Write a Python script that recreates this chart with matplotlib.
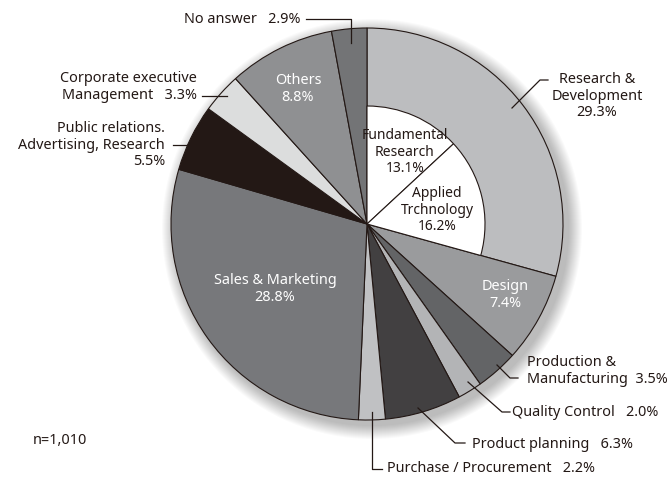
import matplotlib
matplotlib.use("Agg")
import matplotlib.pyplot as plt
from matplotlib.patches import Circle

plt.rcParams['font.family'] = ['Noto Sans', 'DejaVu Sans']

categories = ["Research & Development", "Design", "Production & Manufacturing",
              "Quality Control", "Product planning", "Purchase / Procurement",
              "Sales & Marketing", "Public relations. Advertising, Research",
              "Corporate executive Management", "Others", "No answer"]
values = [29.3, 7.4, 3.5, 2.0, 6.3, 2.2, 28.8, 5.5, 3.3, 8.8, 2.9]
colors = ["#bcbdbf", "#9a9b9d", "#636466", "#b3b4b6", "#424041", "#c0c1c3",
          "#77787b", "#231815", "#dcdddd", "#8f9092", "#737476"]
sub_categories = ["Fundamental Research", "Applied Trchnology"]
sub_values = [13.1, 16.2]
n_label = "n=1,010"

W, H = 671, 479
fig = plt.figure(figsize=(W / 100, H / 100), dpi=100)
ax = fig.add_axes([0, 0, 1, 1])

cx, cy = 367, H - 224
R, r = 196, 118

# soft shadow
for k in range(14):
    ax.add_patch(Circle((cx + 5, cy - 5), R + 14 - k, facecolor="#000000",
                        alpha=0.018, edgecolor="none", zorder=0))

ax.pie(values, colors=colors, startangle=90, counterclock=False, radius=R,
       center=(cx, cy), wedgeprops=dict(edgecolor="#231815", linewidth=0.8),
       frame=True)
rest = 100 - sum(sub_values)
wedges, _ = ax.pie(sub_values + [rest], colors=["white", "white", "none"],
                   startangle=90, counterclock=False, radius=r, center=(cx, cy),
                   wedgeprops=dict(edgecolor="#231815", linewidth=0.8), frame=True)
wedges[-1].set_visible(False)

ax.set_xlim(0, W)
ax.set_ylim(0, H)
ax.set_aspect("equal")
ax.axis("off")

def Y(y):
    return H - y

fs = 10.4
fs_in = 10.0
tc = "#231815"
lw = 0.9
ls = 1.12

def leader(pts):
    xs = [p[0] for p in pts]
    ys = [Y(p[1]) for p in pts]
    ax.plot(xs, ys, color=tc, lw=lw, zorder=5)

# inside labels
ax.text(298, Y(89), "Others\n8.8%", color="white", fontsize=fs, ha="center", va="center", linespacing=ls)
ax.text(405, Y(152), "Fundamental\nResearch\n13.1%", color=tc, fontsize=fs_in, ha="center", va="center", linespacing=1.17)
ax.text(437, Y(210), "Applied\nTrchnology\n16.2%", color=tc, fontsize=fs_in, ha="center", va="center", linespacing=1.17)
ax.text(505, Y(295), "Design\n7.4%", color="white", fontsize=fs, ha="center", va="center", linespacing=ls)
ax.text(275, Y(289), "Sales & Marketing\n28.8%", color="white", fontsize=fs, ha="center", va="center", linespacing=ls)

# outside labels
ax.text(300, Y(19), "No answer   2.9%", color=tc, fontsize=fs, ha="right", va="center")
leader([(306, 19), (351, 19), (351, 43)])

ax.text(597, Y(96), "Research &\nDevelopment\n29.3%", color=tc, fontsize=fs, ha="center", va="center", linespacing=ls)
leader([(512, 108), (540, 80), (548, 80)])

ax.text(527, Y(371), "Production &\nManufacturing  3.5%", color=tc, fontsize=fs, ha="left", va="center", linespacing=ls)
leader([(497, 365), (510, 378), (518, 378)])

ax.text(512, Y(413), "Quality Control   2.0%", color=tc, fontsize=fs, ha="left", va="center")
leader([(468, 382), (502, 412), (510, 412)])

ax.text(472, Y(444), "Product planning   6.3%", color=tc, fontsize=fs, ha="left", va="center")
leader([(418, 408), (455, 443), (465, 443)])

ax.text(387, Y(469), "Purchase / Procurement   2.2%", color=tc, fontsize=fs, ha="left", va="center")
leader([(372, 412), (372, 469), (382, 469)])

ax.text(197, Y(87), "Corporate executive\nManagement   3.3%", color=tc, fontsize=fs, ha="right", va="center", linespacing=ls)
leader([(202, 96), (227, 96)])

ax.text(165, Y(145), "Public relations.\nAdvertising, Research\n5.5%", color=tc, fontsize=fs, ha="right", va="center", linespacing=ls,
        multialignment="right")
leader([(173, 145), (188, 145)])

ax.text(33, Y(441), n_label, color=tc, fontsize=fs, ha="left", va="center")

fig.savefig("out.png", dpi=100, facecolor="white")
